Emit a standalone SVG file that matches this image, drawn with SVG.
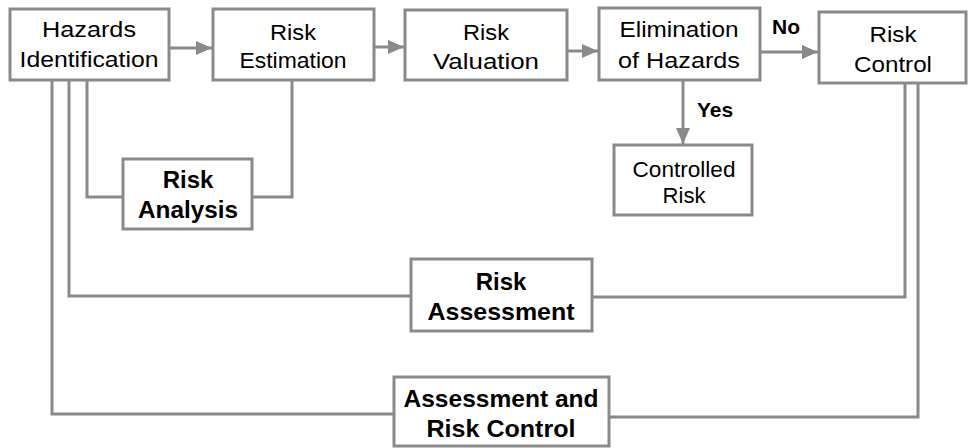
<svg xmlns="http://www.w3.org/2000/svg" width="970" height="448" viewBox="0 0 970 448">
<style>
.box{fill:#fff;stroke:#8a8a8a;stroke-width:3}
.ln{fill:none;stroke:#8a8a8a;stroke-width:3}
.t{font-family:"Liberation Sans",Arial,sans-serif;font-size:22px;fill:#000;text-anchor:middle}
.b{font-family:"Liberation Sans",Arial,sans-serif;font-size:24px;font-weight:bold;fill:#000;text-anchor:middle}
.lb{font-family:"Liberation Sans",Arial,sans-serif;font-size:21px;font-weight:bold;fill:#000}
</style>
<defs>
<marker id="ah" markerUnits="userSpaceOnUse" markerWidth="16" markerHeight="14" refX="16" refY="7" orient="auto">
<path d="M0,0 L16,7 L0,14 z" fill="#8a8a8a"/>
</marker>
</defs>
<rect width="970" height="448" fill="#fff"/>
<g id="connectors">
<line class="ln" x1="169" y1="48" x2="212" y2="48" marker-end="url(#ah)"/>
<line class="ln" x1="374" y1="47" x2="404" y2="47" marker-end="url(#ah)"/>
<line class="ln" x1="567" y1="51" x2="598" y2="51" marker-end="url(#ah)"/>
<line class="ln" x1="760" y1="52" x2="818" y2="52" marker-end="url(#ah)"/>
<line class="ln" x1="683" y1="80" x2="683" y2="144" marker-end="url(#ah)"/>
<polyline class="ln" points="87,80 87,197 123,197"/>
<polyline class="ln" points="252,197 292,197 292,80"/>
<polyline class="ln" points="69,80 69,296 411,296"/>
<polyline class="ln" points="592,297 905,297 905,83"/>
<polyline class="ln" points="52,80 52,414 394,414"/>
<polyline class="ln" points="609,417 918,417 918,83"/>
<text class="lb" x="786" y="34" text-anchor="middle">No</text>
<text class="lb" x="697" y="117">Yes</text>
</g>
<g id="hazards">
<rect class="box" x="10" y="9" width="159" height="71"/>
<text class="t" x="89" y="37" textLength="94" lengthAdjust="spacingAndGlyphs">Hazards</text>
<text class="t" x="89" y="67" textLength="139" lengthAdjust="spacingAndGlyphs">Identification</text>
</g>
<g id="estimation">
<rect class="box" x="213" y="9" width="161" height="71"/>
<text class="t" x="293" y="40" textLength="46" lengthAdjust="spacingAndGlyphs">Risk</text>
<text class="t" x="293" y="68" textLength="107" lengthAdjust="spacingAndGlyphs">Estimation</text>
</g>
<g id="valuation">
<rect class="box" x="405" y="10" width="162" height="70"/>
<text class="t" x="486" y="40" textLength="46" lengthAdjust="spacingAndGlyphs">Risk</text>
<text class="t" x="486" y="69" textLength="106" lengthAdjust="spacingAndGlyphs">Valuation</text>
</g>
<g id="elimination">
<rect class="box" x="599" y="8" width="161" height="72"/>
<text class="t" x="679" y="37" textLength="119" lengthAdjust="spacingAndGlyphs">Elimination</text>
<text class="t" x="679" y="68" textLength="122" lengthAdjust="spacingAndGlyphs">of Hazards</text>
</g>
<g id="riskcontrol">
<rect class="box" x="819" y="12" width="147" height="71"/>
<text class="t" x="893" y="42" textLength="47" lengthAdjust="spacingAndGlyphs">Risk</text>
<text class="t" x="893" y="72" textLength="78" lengthAdjust="spacingAndGlyphs">Control</text>
</g>
<g id="controlled">
<rect class="box" x="614" y="145" width="138" height="70"/>
<text class="t" x="684" y="177" textLength="103" lengthAdjust="spacingAndGlyphs">Controlled</text>
<text class="t" x="684" y="203" textLength="43" lengthAdjust="spacingAndGlyphs">Risk</text>
</g>
<g id="analysis">
<rect class="box" x="123" y="159" width="129" height="70"/>
<text class="b" x="188" y="188">Risk</text>
<text class="b" x="188" y="218" textLength="100" lengthAdjust="spacingAndGlyphs">Analysis</text>
</g>
<g id="assessment">
<rect class="box" x="411" y="259" width="181" height="72"/>
<text class="b" x="501" y="290">Risk</text>
<text class="b" x="501" y="320" textLength="147" lengthAdjust="spacingAndGlyphs">Assessment</text>
</g>
<g id="assesscontrol">
<rect class="box" x="394" y="377" width="215" height="69"/>
<text class="b" x="501" y="407" textLength="195" lengthAdjust="spacingAndGlyphs">Assessment and</text>
<text class="b" x="501" y="437" textLength="149" lengthAdjust="spacingAndGlyphs">Risk Control</text>
</g>
</svg>
